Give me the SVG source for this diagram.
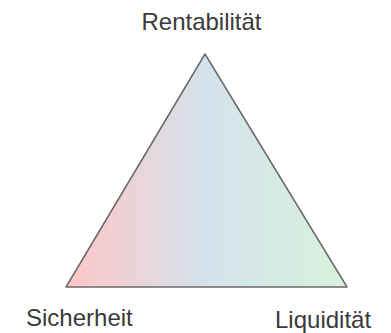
<svg xmlns="http://www.w3.org/2000/svg" width="391" height="333" viewBox="0 0 391 333">
<style>
.lbl{font-family:"Liberation Sans",Arial,sans-serif;font-size:24px;fill:#3a3a3a}
.tri{stroke:#6a6a6a;stroke-width:1.5;stroke-linejoin:round}
</style>
<defs>
<linearGradient id="g" x1="66" y1="0" x2="347" y2="0" gradientUnits="userSpaceOnUse">
<stop offset="0" stop-color="#ffc6c6"/>
<stop offset="0.5" stop-color="#d4e2ec"/>
<stop offset="1" stop-color="#d8f2dc"/>
</linearGradient>
</defs>
<rect width="391" height="333" fill="#ffffff"/>
<g id="triangle">
<polygon class="tri" points="205,54 347,287 66,287" fill="url(#g)"/>
</g>
<g id="connectors"></g>
<g id="rentabilitaet"><text class="lbl" x="201.5" y="30" text-anchor="middle">Rentabilität</text></g>
<g id="sicherheit"><text class="lbl" x="26" y="326">Sicherheit</text></g>
<g id="liquiditaet"><text class="lbl" x="275" y="328">Liquidität</text></g>
</svg>
